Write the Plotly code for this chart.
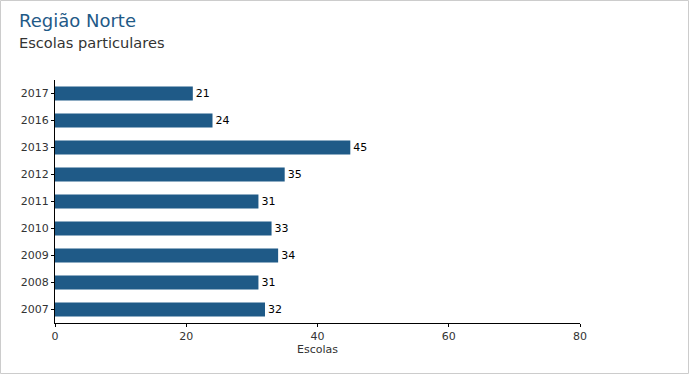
import plotly.graph_objects as go

years = ["2007", "2008", "2009", "2010", "2011", "2012", "2013", "2016", "2017"]
escolas = [32, 31, 34, 33, 31, 35, 45, 24, 21]

W, H = 690, 375
L, R, T, B = 55, 110, 80, 52
pw, ph = W - L - R, H - T - B

def px(x):
    return (x - L) / pw

def py(y):
    return (T + ph - y) / ph

fig = go.Figure(go.Bar(
    y=years, x=escolas, orientation="h",
    marker=dict(color="#1f5a87", line=dict(width=0)),
    text=[str(v) for v in escolas], textposition="outside",
    textfont=dict(family="DejaVu Sans", size=11, color="#000"),
    cliponaxis=False,
))

fig.update_layout(
    width=W, height=H,
    margin=dict(l=L, r=R, t=T, b=B),
    paper_bgcolor="white", plot_bgcolor="white",
    font=dict(family="DejaVu Sans", size=11, color="#333"),
    bargap=0.48,
    showlegend=False,
    xaxis=dict(range=[0, 80], tickvals=[0, 20, 40, 60, 80], showgrid=False, zeroline=False,
               showline=True, linecolor="#000", linewidth=1, ticks="outside", ticklen=3,
               tickcolor="#000", title=dict(text="Escolas", standoff=2,
               font=dict(size=11, color="#333")), tickfont=dict(size=11, color="#333")),
    yaxis=dict(type="category", showgrid=False, zeroline=False, showline=True,
               linecolor="#000", linewidth=1, ticks="outside", ticklen=3, tickcolor="#000",
               tickfont=dict(size=11, color="#333"), range=[-0.5, 8.5]),
    shapes=[dict(type="rect", xref="paper", yref="paper",
                 x0=px(0.5), x1=px(688.5), y0=py(373.5), y1=py(0.5),
                 line=dict(color="#cccccc", width=1), fillcolor="rgba(0,0,0,0)", layer="below")],
    annotations=[
        dict(text="Região Norte", xref="paper", yref="paper", x=px(17), y=py(20),
             xanchor="left", yanchor="middle", showarrow=False,
             font=dict(family="DejaVu Sans", size=18, color="#1f5a87")),
        dict(text="Escolas particulares", xref="paper", yref="paper", x=px(17), y=py(42),
             xanchor="left", yanchor="middle", showarrow=False,
             font=dict(family="DejaVu Sans", size=14.6, color="#333")),
    ],
)

fig.write_html("out.html", config={"displayModeBar": False},
               post_script="document.body.style.margin='0';")
